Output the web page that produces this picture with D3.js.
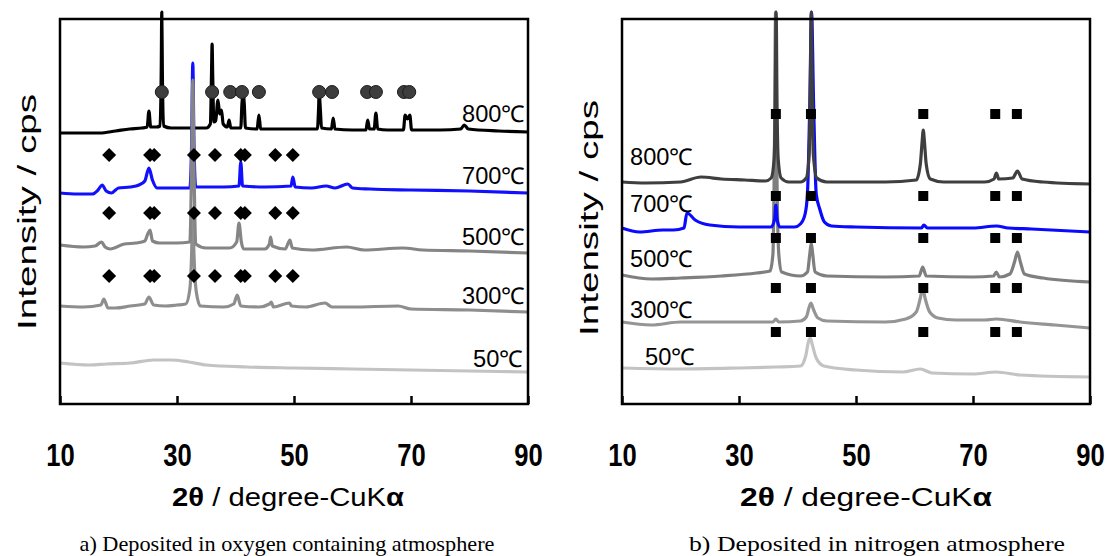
<!DOCTYPE html>
<html>
<head>
<meta charset="utf-8">
<script src="https://cdn.jsdelivr.net/npm/d3@7"></script>
<style>
  body { margin: 0; background: #fff; }
  text { font-family: "Liberation Sans", Arial, sans-serif; }
  text.caption { font-family: "Liberation Serif", "Times New Roman", serif; }
</style>
</head>
<body>
<svg id="chart" width="1107" height="556"></svg>
<script>
// ---- axis ticks ----
const tickValues = [10, 30, 50, 70, 90];
const temperatures = ["800℃", "700℃", "500℃", "300℃", "50℃"];

// ---- a) oxygen-containing atmosphere: [2θ, intensity (offset, cps a.u.)] ----
const oxy800 = [[10,271],[13,271],[16.8,271],[19.5,273],[21.9,275],[24,276],[24.9,277],[25.2,293],[25.5,277],
  [26.5,277],[27.1,278],[27.3,330],[27.4,392],[27.5,330],[27.7,278],[29,276],[31,276],[33,276],[35,276],
  [35.7,280],[35.9,330],[36.0,360],[36.1,330],[36.3,282],[36.6,283],[37.0,304],[37.3,290],[37.6,294],[37.9,280],
  [38.6,277],[38.9,284],[39.2,276],[40.9,276],[41.1,300],[41.3,311],[41.5,300],[41.7,276],[43.7,275],[44.0,289],
  [44.3,275],[50,275],[54.0,275],[54.2,295],[54.3,311],[54.5,295],[54.7,276],[56.4,275],[56.7,286],[57.0,275],
  [60,274],[62.3,274],[62.6,284],[62.9,275],[63.7,275],[64.0,291],[64.3,275],[66,274],[68.7,274],[69.0,289],
  [69.4,285],[69.8,289],[70.1,274],[75,274],[78.5,275],[79.1,279],[79.8,275],[85,273],[90,272]];
const oxy700 = [[10,211],[13,210],[15.5,210],[16.5,214],[17.2,219],[17.9,213],[18.8,211],[20,216],[22,217],
  [23.5,219],[24.5,223],[25.2,236],[25.8,224],[26.6,216],[28,216],[30,216],[32.2,216],[32.5,260],[32.7,341],
  [32.9,260],[33.2,217],[35,217],[38,217],[40.6,218],[40.9,242],[41.2,218],[45,217],[49.5,218],[49.8,227],
  [50.2,217],[53,216],[55.5,218],[57,216],[59.2,220],[60,216],[63,215],[70,214],[80,213],[90,211]];
const oxy500 = [[10,159],[14,157],[16,158],[17.1,162],[17.7,157],[18.6,155],[21,160],[23,161],[24.5,163],
  [25,170],[25.4,174],[25.8,163],[27,161],[30,161],[32.2,162],[32.5,240],[32.7,324],[32.9,240],[33.2,160],
  [35,156],[39,156],[40.2,162],[40.6,181],[41.0,162],[41.4,155],[45,155],[45.8,160],[46.0,167],[46.3,158],
  [48.5,155],[49.3,164],[49.7,156],[53,154],[59,157],[62,154],[68.6,156],[72,154],[80,153],[90,151]];
const oxy300 = [[10,98],[14,97],[17.0,99],[17.5,105],[18.2,96],[19.5,96],[22,98],[24.5,100],[25.2,107],
  [26,99],[28,98],[30,99],[31.5,100],[32.2,115],[32.5,150],[32.7,194],[32.9,150],[33.3,112],[34,98],[38,97],
  [39.7,100],[40.3,109],[40.9,98],[44,97],[45.8,100],[46.1,102],[46.5,97],[49.2,101],[49.6,98],[52,97],
  [55.3,101],[56.5,97],[60,97],[67.8,98],[70,95],[80,94],[90,92]];
const oxy50 = [[10,41],[15,39],[18,40],[22,41],[26,44],[29,44],[32,42],[35,39],[42,37],[50,36],[60,35],
  [70,34],[80,33],[90,32]];

// reflection markers, panel a
const oxyCircles = [27.4, 36.0, 39.1, 41.1, 44.0, 54.3, 56.5, 62.5, 64.0, 68.8, 69.7];
const oxyCircleLevel = 312;
const oxyDiamonds = [18.4, 25.4, 26.1, 32.9, 36.5, 40.9, 41.6, 46.8, 49.8];
const oxyDiamondLevels = [249, 191, 128];

// ---- b) nitrogen atmosphere ----
const nit800 = [[10,222],[14,221],[20,222],[23.5,227],[27,225],[31,224],[34.5,223],[35.5,226],[36.0,245],
  [36.2,300],[36.35,392],[36.5,300],[36.7,245],[37.2,226],[38.5,222],[40.5,222],[41.5,226],[42.0,250],
  [42.2,320],[42.35,392],[42.5,320],[42.7,250],[43.3,226],[45,222],[55,222],[60.3,224],[61.0,240],[61.3,262],
  [61.5,274],[61.7,262],[62.0,240],[62.7,225],[65,222],[72,222],[73.6,225],[74.0,231],[74.4,225],[76.8,226],
  [77.6,233],[78.4,225],[82,222],[90,220]];
const nit700 = [[10,176],[13,172],[17,174],[18.8,174],[20.6,176],[21.1,191],[22.5,184],[25,179],[30,177],
  [35.5,177],[36.1,185],[36.3,199],[36.5,185],[37,177],[39.5,177],[40.5,180],[41.3,190],[41.7,210],[42.1,300],
  [42.4,392],[42.75,300],[43.2,210],[43.8,195],[44.6,182],[45.8,178],[50,177],[61.2,176],[61.6,179],[62.2,176],
  [70,176],[74,178],[76,176],[80,175],[90,172]];
const nit500 = [[10,129],[15,125],[20,126],[27,128],[33,131],[35.3,133],[35.8,150],[36.05,250],[36.25,392],
  [36.45,250],[36.8,150],[37.3,132],[40.5,128],[41.7,132],[42.1,150],[42.35,161],[42.6,150],[43.0,132],[45,128],
  [55,127],[60.8,128],[61.4,137],[62,128],[70,127],[73.5,128],[74.0,132],[74.5,127],[76.3,130],[77.1,142],
  [77.6,152],[78.1,142],[78.8,130],[82,126],[90,122]];
const nit300 = [[10,82],[15,79],[20,82],[30,82],[35.8,82],[36.3,85],[36.8,82],[40.5,83],[41.5,87],[42.0,97],
  [42.3,101],[42.7,95],[43.5,86],[45,83],[55,82],[58.5,85],[60.3,92],[61.0,106],[61.4,116],[61.8,106],
  [62.6,92],[64,86],[67,84],[72,84],[74,85],[78,82],[84,79],[90,76]];
const nit50 = [[10,36],[20,35],[30,36],[36.3,37],[40.5,38],[41.4,48],[41.9,63],[42.2,66],[42.5,60],[43.2,46],
  [44.5,38],[50,34],[58,32],[61.0,35],[63,31],[70,30],[74,32],[78,29],[90,27]];

const nitSquares = [36.3, 42.3, 61.5, 73.8, 77.5];
const nitSquareLevels = [290, 208, 166, 116, 72];

// ---- layout & styles ----
const svg = d3.select("#chart");
const plotTop = 19, plotBottom = 404;

const panels = [
  {
    x0: 60, x1: 528,
    series: [
      { data: oxy50, color: "#c3c3c3" },
      { data: oxy300, color: "#8e8e8e" },
      { data: oxy800, color: "#000000" },
      { data: oxy700, color: "#1010ff" },
      { data: oxy500, color: "#858585" }
    ],
    labels: { anchor: "end", x: [525, 525, 525, 525, 523], y: [122, 184, 245, 304, 367] },
    title: { cx: 288, width: 232 },
    ytitle: { x: 36, cy: 212 },
    caption: { text: "a) Deposited in oxygen containing atmosphere", cx: 287, width: 415 }
  },
  {
    x0: 622, x1: 1090,
    series: [
      { data: nit50, color: "#c3c3c3" },
      { data: nit300, color: "#959595" },
      { data: nit500, color: "#7f7f7f" },
      { data: nit700, color: "#0a0aff" },
      { data: nit800, color: "#3f3f3f" }
    ],
    labels: { anchor: "start", x: [630, 630, 630, 630, 645], y: [165, 212, 267, 318, 365] },
    title: { cx: 866, width: 252 },
    ytitle: { x: 598, cy: 218 },
    caption: { text: "b) Deposited in nitrogen atmosphere", cx: 877, width: 376 }
  }
];

const y = d3.scaleLinear().domain([0, 385]).range([plotBottom, plotTop]);

panels.forEach((p, pi) => {
  const x = d3.scaleLinear().domain([10, 90]).range([p.x0, p.x1]);
  const g = svg.append("g");
  const line = d3.line().x(d => x(d[0])).y(d => y(d[1])).curve(d3.curveMonotoneX);

  // spectra
  p.series.forEach(s => {
    g.append("path").datum(s.data)
      .attr("d", line)
      .attr("fill", "none")
      .attr("stroke", s.color)
      .attr("stroke-width", 3.2)
      .attr("stroke-linejoin", "round");
  });

  // reflection markers
  if (pi === 0) {
    g.selectAll("circle.ref").data(oxyCircles).join("circle")
      .attr("cx", d => x(d)).attr("cy", y(oxyCircleLevel)).attr("r", 6.5)
      .attr("fill", "#3d3d3d").attr("stroke", "#1c1c1c").attr("stroke-width", 1);
    const diamond = d3.symbol().type(d3.symbolSquare).size(98);
    oxyDiamondLevels.forEach(lv => {
      g.append("g").selectAll("path").data(oxyDiamonds).join("path")
        .attr("d", diamond)
        .attr("transform", d => `translate(${x(d)},${y(lv)}) rotate(45)`)
        .attr("fill", "#000");
    });
  } else {
    const square = d3.symbol().type(d3.symbolSquare).size(100);
    nitSquareLevels.forEach(lv => {
      g.append("g").selectAll("path").data(nitSquares).join("path")
        .attr("d", square)
        .attr("transform", d => `translate(${x(d)},${y(lv)})`)
        .attr("fill", "#000");
    });
  }

  // temperature labels
  temperatures.forEach((t, i) => {
    g.append("text")
      .attr("x", p.labels.x[i]).attr("y", p.labels.y[i])
      .attr("text-anchor", p.labels.anchor)
      .attr("font-size", 23)
      .attr("textLength", t.length === 4 ? 63 : 50)
      .attr("lengthAdjust", "spacingAndGlyphs")
      .text(t);
  });

  // frame
  g.append("rect")
    .attr("x", p.x0).attr("y", plotTop)
    .attr("width", p.x1 - p.x0).attr("height", plotBottom - plotTop)
    .attr("fill", "none").attr("stroke", "#000").attr("stroke-width", 2.5);

  // x axis: inward ticks, bold condensed numbers below
  const axis = d3.axisBottom(x).tickValues(tickValues).tickSizeInner(-8).tickSizeOuter(0).tickPadding(62);
  const ax = g.append("g").attr("transform", `translate(0,${plotBottom})`).call(axis);
  ax.select(".domain").remove();
  ax.selectAll(".tick line").attr("stroke", "#000").attr("stroke-width", 2.5);
  ax.selectAll(".tick text")
    .attr("font-size", 32).attr("font-weight", "bold").attr("fill", "#000")
    .attr("dy", 0)
    .attr("transform", "scale(0.8,1)");

  // x title
  const xt = g.append("text")
    .attr("x", p.title.cx).attr("y", 506)
    .attr("text-anchor", "middle")
    .attr("font-size", 25)
    .attr("textLength", p.title.width).attr("lengthAdjust", "spacingAndGlyphs");
  xt.append("tspan").attr("font-weight", "bold").text("2θ");
  xt.append("tspan").text("  / degree-CuK");
  xt.append("tspan").attr("font-weight", "bold").text("α");

  // y title
  g.append("text")
    .attr("transform", `translate(${p.ytitle.x},${p.ytitle.cy}) rotate(-90)`)
    .attr("text-anchor", "middle")
    .attr("font-size", 26)
    .attr("textLength", 236).attr("lengthAdjust", "spacingAndGlyphs")
    .text("Intensity / cps");

  // caption
  g.append("text")
    .attr("class", "caption")
    .attr("x", p.caption.cx).attr("y", 551)
    .attr("text-anchor", "middle")
    .attr("font-size", 22)
    .attr("textLength", p.caption.width).attr("lengthAdjust", "spacingAndGlyphs")
    .text(p.caption.text);
});
</script>
</body>
</html>
